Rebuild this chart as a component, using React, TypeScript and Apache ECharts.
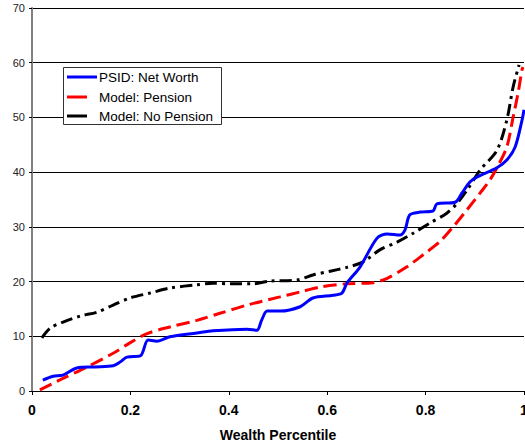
import React, { useEffect, useRef } from "react";
import * as echarts from "echarts";

const xTicks = [0, 0.2, 0.4, 0.6, 0.8, 1];
const yTicks = [0, 10, 20, 30, 40, 50, 60, 70];

const psidX = [0.022, 0.043, 0.063, 0.091, 0.128, 0.165, 0.179, 0.193, 0.22, 0.236, 0.254, 0.28, 0.335, 0.368, 0.437, 0.457, 0.467, 0.478, 0.504, 0.545, 0.571, 0.612, 0.63, 0.64, 0.667, 0.701, 0.722, 0.748, 0.758, 0.768, 0.789, 0.815, 0.823, 0.86, 0.874, 0.89, 0.904, 0.945, 0.965, 0.982, 0.996, 1.0];
const psidY = [2.0, 2.7, 2.9, 4.2, 4.4, 4.6, 5.3, 6.2, 6.4, 9.3, 9.1, 9.9, 10.6, 11.0, 11.3, 11.1, 13.0, 14.6, 14.6, 15.4, 17.0, 17.5, 17.9, 19.7, 22.7, 27.9, 28.7, 28.5, 29.4, 32.2, 32.7, 32.9, 34.2, 34.5, 36.2, 38.2, 39.1, 40.8, 42.2, 44.6, 49.5, 51.4];

const pensionX = [0.016, 0.063, 0.112, 0.165, 0.199, 0.234, 0.28, 0.335, 0.382, 0.437, 0.504, 0.545, 0.585, 0.64, 0.693, 0.722, 0.762, 0.795, 0.829, 0.856, 0.884, 0.911, 0.931, 0.945, 0.965, 0.978, 0.988, 0.996, 0.998];
const pensionY = [0.2, 2.3, 4.4, 6.9, 8.8, 10.5, 11.7, 12.9, 14.2, 15.7, 17.2, 18.1, 19.0, 19.6, 19.8, 20.6, 22.7, 24.9, 27.3, 30.0, 33.1, 36.2, 38.6, 40.8, 44.6, 50.1, 54.5, 58.7, 59.2];

const noPensionX = [0.02, 0.037, 0.063, 0.098, 0.132, 0.165, 0.199, 0.24, 0.28, 0.335, 0.368, 0.402, 0.449, 0.484, 0.539, 0.571, 0.606, 0.64, 0.673, 0.707, 0.742, 0.774, 0.809, 0.843, 0.864, 0.884, 0.911, 0.945, 0.965, 0.978, 0.99];
const noPensionY = [9.7, 11.5, 12.6, 13.7, 14.4, 15.7, 17.0, 17.9, 18.8, 19.4, 19.7, 19.6, 19.6, 20.1, 20.3, 21.2, 21.9, 22.6, 23.6, 25.8, 27.2, 28.8, 30.7, 32.5, 34.3, 36.7, 40.4, 44.0, 49.5, 55.6, 59.6];

const legendNames = ["PSID: Net Worth", "Model: Pension", "Model: No Pension"];
const colors = ["#0000ff", "#ff0000", "#000000"];

const zip = (xs: number[], ys: number[]) => xs.map((x, i) => [x, ys[i]]);

export default function App() {
  const ref = useRef<HTMLDivElement>(null);
  useEffect(() => {
    if (!ref.current) return;
    const chart = echarts.init(ref.current, null, { renderer: "svg" });
    const font = "Liberation Sans, Arial, sans-serif";
    const legendY = [77, 97, 116];
    const legendLen = [30, 20, 20];
    chart.setOption({
      animation: false,
      backgroundColor: "#fff",
      grid: { left: 32, right: 1, top: 8, bottom: 53, containLabel: false, outerBoundsMode: "none" },
      xAxis: {
        type: "value",
        min: xTicks[0],
        max: xTicks[xTicks.length - 1],
        interval: 0.2,
        name: "Wealth Percentile",
        nameLocation: "middle",
        nameGap: 37,
        nameTextStyle: { fontFamily: font, fontSize: 14, fontWeight: "bold", color: "#000" },
        axisLine: { show: true, lineStyle: { color: "#000", width: 1 } },
        axisTick: { show: true, length: 4, lineStyle: { color: "#000" } },
        axisLabel: { fontFamily: font, fontSize: 14, fontWeight: "bold", color: "#000", margin: 12 },
        splitLine: { show: false },
      },
      yAxis: {
        type: "value",
        min: yTicks[0],
        max: yTicks[yTicks.length - 1],
        interval: 10,
        axisLine: { show: true, lineStyle: { color: "#808080", width: 2 } },
        axisTick: { show: true, length: 3, lineStyle: { color: "#000" } },
        axisLabel: { fontFamily: font, fontSize: 11, color: "#222", margin: 7 },
        splitLine: { show: true, lineStyle: { color: "#000", width: 1 } },
      },
      series: [
        {
          name: legendNames[0],
          type: "line",
          data: zip(psidX, psidY),
          showSymbol: false,
          smooth: 0.3,
          lineStyle: { color: colors[0], width: 3 },
          z: 3,
        },
        {
          name: legendNames[1],
          type: "line",
          data: zip(pensionX, pensionY),
          showSymbol: false,
          smooth: 0.3,
          lineStyle: { color: colors[1], width: 3, type: [13, 6] },
          z: 2,
        },
        {
          name: legendNames[2],
          type: "line",
          data: zip(noPensionX, noPensionY),
          showSymbol: false,
          smooth: 0.3,
          lineStyle: { color: colors[2], width: 3, type: [12, 5, 3, 5] },
          z: 2,
        },
      ],
      graphic: [
        {
          type: "rect",
          shape: { x: 63.5, y: 67.5, width: 158, height: 57 },
          style: { fill: "#fff", stroke: "#333", lineWidth: 1 },
          z: 100,
        },
        ...legendNames.flatMap((n, i) => [
          {
            type: "line",
            shape: { x1: 67, y1: legendY[i], x2: 67 + legendLen[i], y2: legendY[i] },
            style: { stroke: colors[i], lineWidth: 3 },
            z: 101,
          },
          {
            type: "text",
            x: 99,
            y: legendY[i],
            style: {
              text: n,
              fontFamily: font,
              fontSize: 13.5,
              fill: "#000",
              textVerticalAlign: "middle",
              verticalAlign: "middle",
            },
            z: 101,
          },
        ]),
      ],
    });
    return () => chart.dispose();
  }, []);
  return (
    <div
      ref={ref}
      style={{ position: "fixed", left: 0, top: 0, width: 525, height: 444 }}
    />
  );
}
